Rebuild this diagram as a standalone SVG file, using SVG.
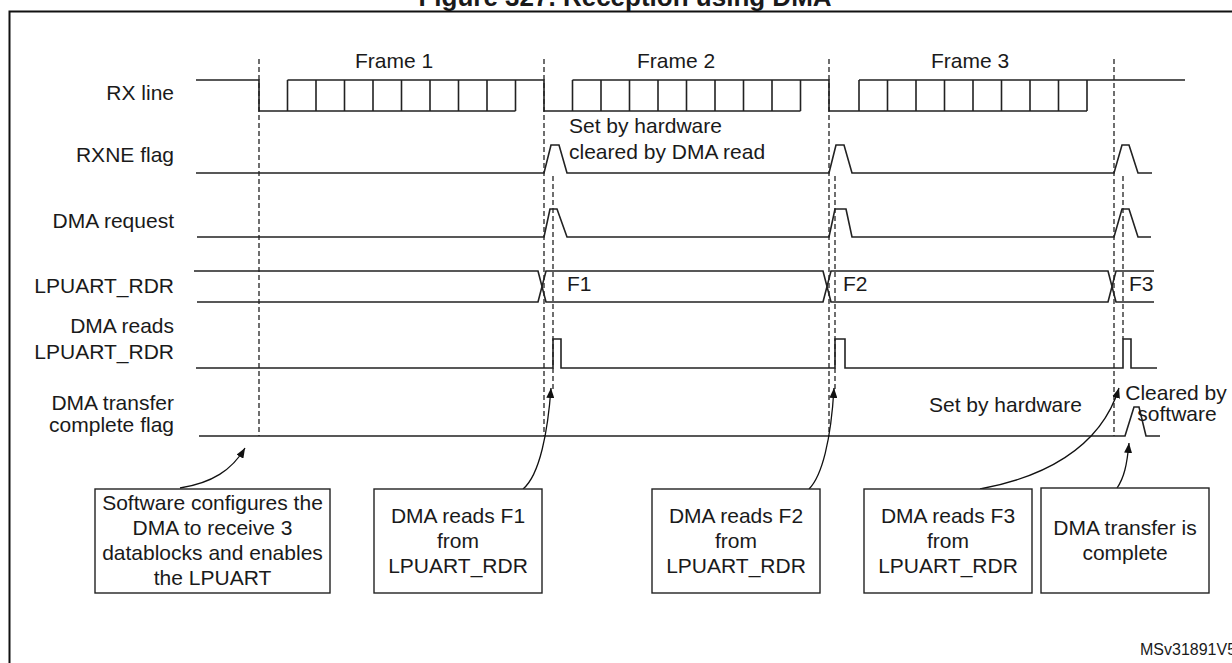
<svg xmlns="http://www.w3.org/2000/svg" width="1232" height="663" viewBox="0 0 1232 663">
<defs>
<style>
text{font-family:"Liberation Sans",Arial,sans-serif;font-size:21px;fill:#1a1a1a}
.lbl{text-anchor:end}
.mid{text-anchor:middle}
.sig{fill:none;stroke:#222;stroke-width:1.6;stroke-linejoin:miter}
.dash{fill:none;stroke:#222;stroke-width:1.3;stroke-dasharray:5,3}
.box{fill:#fff;stroke:#222;stroke-width:1.4}
.arr{fill:none;stroke:#111;stroke-width:1.3;marker-end:url(#ah)}
</style>
<marker id="ah" viewBox="0 0 10 8" refX="10" refY="4" markerWidth="10" markerHeight="8" markerUnits="userSpaceOnUse" orient="auto">
<path d="M0,0 L10,4 L0,8 z" fill="#111"/>
</marker>
</defs>
<rect width="1232" height="663" fill="#fff"/>
<text x="625" y="6" class="mid" style="font-weight:bold;font-size:26px">Figure 327. Reception using DMA</text>
<path d="M9.5,670 V11.5 H1240" fill="none" stroke="#111" stroke-width="2"/>

<g id="frame-labels">
<text x="394" y="68" class="mid">Frame 1</text>
<text x="676" y="68" class="mid">Frame 2</text>
<text x="970" y="68" class="mid">Frame 3</text>
</g>

<g id="dashed-markers">
<path class="dash" d="M259,59 V436 M544,59 V436 M829,59 V436 M1114,59 V436"/>
<path class="dash" d="M553,176 V390 M835,176 V390 M1123,176 V339"/>
</g>

<g id="rx-line">
<text x="174" y="100" class="lbl">RX line</text>
<path class="sig" d="M196,80 H259 V111 H515.5 M287.5,80 H544 V111 H800.5 M572.5,80 H829 V111 H1087 M859,80 H1185"/>
<path class="sig" d="M287.5,80 V111 M316,80 V111 M344.5,80 V111 M373,80 V111 M401.5,80 V111 M430,80 V111 M458.5,80 V111 M487,80 V111 M515.5,80 V111 M572.5,80 V111 M601,80 V111 M629.5,80 V111 M658,80 V111 M686.5,80 V111 M715,80 V111 M743.5,80 V111 M772,80 V111 M800.5,80 V111 M859,80 V111 M887.5,80 V111 M916,80 V111 M944.5,80 V111 M973,80 V111 M1001.5,80 V111 M1030,80 V111 M1058.5,80 V111 M1087,80 V111"/>
</g>

<g id="rxne-flag">
<text x="174" y="162" class="lbl">RXNE flag</text>
<path class="sig" d="M196,173 H544 L551,145 H559 L567,173 H829 L836,145 H844 L852,173 H1114 L1122,145 H1129 L1138,173 H1152"/>
<text x="569" y="133">Set by hardware</text>
<text x="569" y="159">cleared by DMA read</text>
</g>

<g id="dma-request">
<text x="174" y="228" class="lbl">DMA request</text>
<path class="sig" d="M197,237 H544 L550,209 H557 L567,237 H829 L835,209 H846 L852,237 H1114 L1122,209 H1129 L1138,237 H1151"/>
</g>

<g id="lpuart-rdr">
<text x="174" y="293" class="lbl">LPUART_RDR</text>
<path class="sig" d="M194,271 H538 L546,302 H823 L831,271 H1108 L1116,302 H1154"/>
<path class="sig" d="M197,302 H538 L546,271 H823 L831,302 H1108 L1116,271 H1154"/>
<text x="567" y="291">F1</text>
<text x="843" y="291">F2</text>
<text x="1129" y="291">F3</text>
</g>

<g id="dma-reads">
<text x="174" y="333" class="lbl">DMA reads</text>
<text x="174" y="359" class="lbl">LPUART_RDR</text>
<path class="sig" d="M196,368 H553 V339 H561 V368 H835 V339 H845 V368 H1123 V339 H1131 V368 H1157"/>
</g>

<g id="dma-transfer-complete">
<text x="174" y="410" class="lbl">DMA transfer</text>
<text x="174" y="432" class="lbl">complete flag</text>
<path class="sig" d="M199,436 H1125 L1134,407 H1139 L1146,436 H1160"/>
<text x="929" y="412">Set by hardware</text>
<text x="1176" y="400" class="mid">Cleared by</text>
<text x="1177" y="421" class="mid">software</text>
</g>

<g id="connectors">
<path class="arr" d="M180,488 C212,483 232,470 245,448"/>
<path class="arr" d="M523,489 C540,475 548,430 551,388"/>
<path class="arr" d="M809,489 C822,476 831,440 834,388"/>
<path class="arr" d="M980,489 C1040,478 1100,450 1119,388"/>
<path class="arr" d="M1117,488 C1124,478 1127,465 1129,443"/>
</g>

<g id="box-sw-config">
<rect class="box" x="95" y="489" width="235" height="104"/>
<text x="212.5" y="510" class="mid">Software configures the</text>
<text x="212.5" y="535" class="mid">DMA to receive 3</text>
<text x="212.5" y="560" class="mid">datablocks and enables</text>
<text x="212.5" y="585" class="mid">the LPUART</text>
</g>

<g id="box-read-f1">
<rect class="box" x="374" y="489" width="168" height="104"/>
<text x="458" y="523" class="mid">DMA reads F1</text>
<text x="458" y="548" class="mid">from</text>
<text x="458" y="573" class="mid">LPUART_RDR</text>
</g>

<g id="box-read-f2">
<rect class="box" x="652" y="489" width="168" height="104"/>
<text x="736" y="523" class="mid">DMA reads F2</text>
<text x="736" y="548" class="mid">from</text>
<text x="736" y="573" class="mid">LPUART_RDR</text>
</g>

<g id="box-read-f3">
<rect class="box" x="864" y="489" width="168" height="104"/>
<text x="948" y="523" class="mid">DMA reads F3</text>
<text x="948" y="548" class="mid">from</text>
<text x="948" y="573" class="mid">LPUART_RDR</text>
</g>

<g id="box-complete">
<rect class="box" x="1041" y="488" width="168" height="105"/>
<text x="1125" y="535" class="mid">DMA transfer is</text>
<text x="1125" y="560" class="mid">complete</text>
</g>

<text x="1140" y="655" style="font-size:16px">MSv31891V5</text>
</svg>
